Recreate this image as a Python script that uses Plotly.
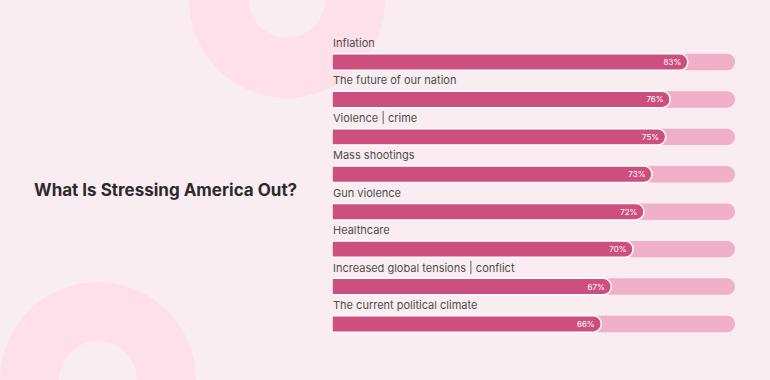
import plotly.graph_objects as go

categories = ["Inflation", "The future of our nation", "Violence | crime", "Mass shootings",
              "Gun violence", "Healthcare", "Increased global tensions | conflict",
              "The current political climate"]
labels = ["83%", "76%", "75%", "73%", "72%", "70%", "67%", "66%"]
# bar fill lengths as drawn in the picture (percent of the track)
fill = [88.3, 83.9, 82.8, 79.4, 77.4, 74.7, 69.3, 66.8]
track = [100] * len(categories)

W, H = 770, 380
BG = "#faedf1"
RING = "#fde0ea"
FILL = "#cd4f7d"
TRACK = "#f0b0c7"

fig = go.Figure()
fig.add_trace(go.Bar(y=categories, x=track, orientation="h", width=0.44,
                     marker=dict(color=TRACK, cornerradius=8, line=dict(width=0)),
                     hoverinfo="skip", showlegend=False))
fig.add_trace(go.Bar(y=categories, x=fill, orientation="h", width=0.44, yaxis="y2",
                     text=labels, textposition="inside", insidetextanchor="end",
                     textfont=dict(color="white", size=8, family="Inter"),
                     marker=dict(color=FILL, cornerradius=8, line=dict(color="white", width=1.5)),
                     showlegend=False))

for c in categories:
    fig.add_annotation(x=0, y=c, xref="x", yref="y", text=c, showarrow=False,
                       xanchor="left", yanchor="middle", yshift=19, xshift=-1,
                       font=dict(size=11, color="#4d4d4d", family="Inter"))

fig.add_annotation(x=165 / W, y=0.5, xref="paper", yref="paper",
                   text="What Is Stressing America Out?", showarrow=False,
                   xanchor="center", yanchor="middle",
                   font=dict(size=17, color="#2b2b2b", family="Inter", weight=700))

def circle(cx, cy, r, color):
    return dict(type="circle", xref="paper", yref="paper", layer="below",
                x0=(cx - r) / W, x1=(cx + r) / W,
                y0=1 - (cy + r) / H, y1=1 - (cy - r) / H,
                fillcolor=color, line=dict(width=0))

shapes = [circle(287, 0, 98, RING), circle(287, 0, 38, BG),
          circle(98, 380, 98, RING), circle(98, 380, 39, BG)]

ydom = [1 - 342.7 / H, 1 - 43.3 / H]
yrange = [len(categories) - 0.5, -0.5]
fig.update_layout(
    width=W, height=H, margin=dict(l=0, r=0, t=0, b=0),
    paper_bgcolor=BG, plot_bgcolor="rgba(0,0,0,0)",
    barmode="overlay", shapes=shapes,
    xaxis=dict(domain=[332 / W, 735 / W], range=[0, 100], visible=False, fixedrange=True),
    yaxis=dict(domain=ydom, range=yrange, visible=False, fixedrange=True,
               categoryorder="array", categoryarray=categories),
    yaxis2=dict(domain=ydom, overlaying="y", range=yrange, visible=False,
                fixedrange=True, categoryorder="array", categoryarray=categories),
    font=dict(family="Inter"),
)

fig.write_html("out.html", config={"displayModeBar": False},
               post_script="document.body.style.margin='0';document.body.style.background='%s';" % BG)
